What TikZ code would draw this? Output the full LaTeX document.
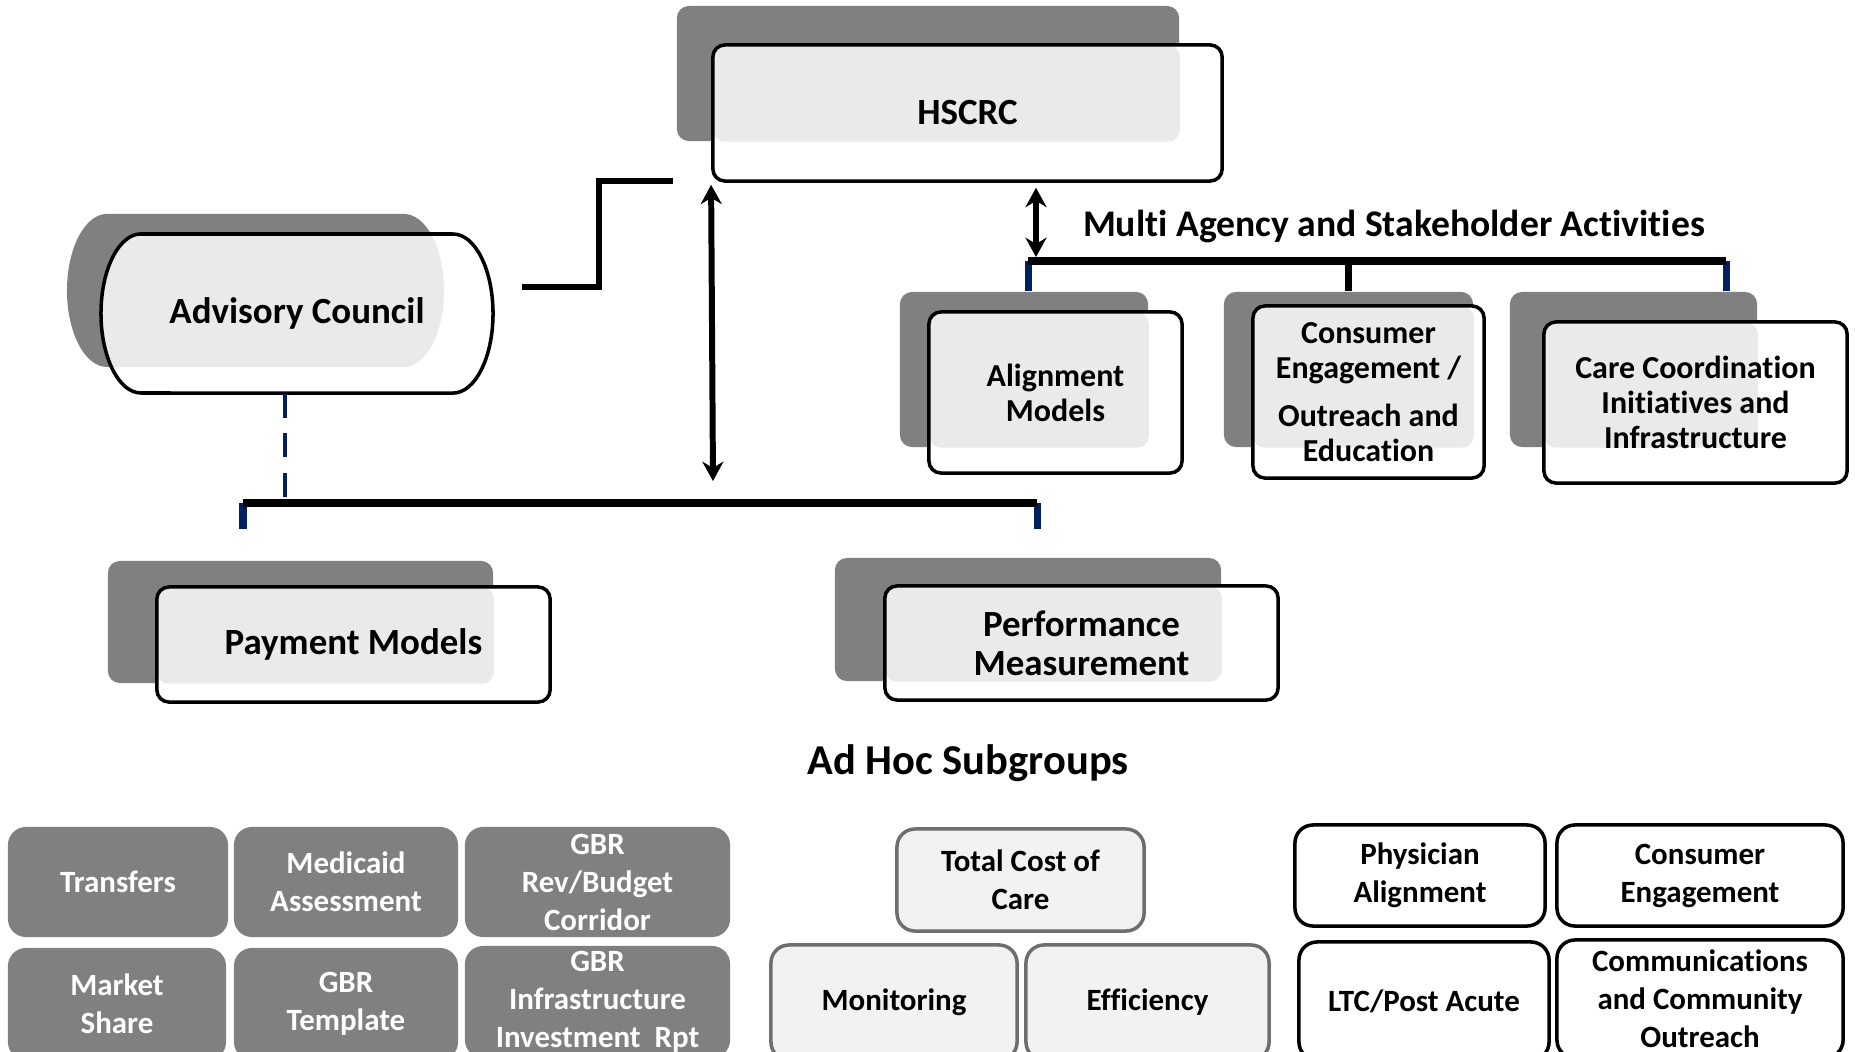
\documentclass[tikz,border=0pt]{standalone}
\usepackage{fontspec}
\setmainfont{Carlito}[Ligatures=NoCommon]
\usepackage{xcolor}
\usetikzlibrary{arrows.meta, positioning}

\definecolor{shadowgray}{RGB}{128,128,128}
\definecolor{dotgray}{RGB}{234,234,234}
\definecolor{linknavy}{RGB}{0,32,96}
\definecolor{lightfill}{RGB}{242,242,242}
\definecolor{midborder}{RGB}{110,110,110}

\begin{document}
\begin{tikzpicture}[x=0.01cm, y=-0.01cm,
    shadowbox/.style={fill=shadowgray, rounded corners=0.12cm, inner sep=0pt},
    frontbox/.style={draw, line width=1pt, fill=white, rounded corners=0.12cm, align=center, inner sep=1pt,
        path picture={\fill[dotgray, rounded corners=0.12cm] (path picture bounding box.north west) rectangle (#1.south east);}},
    bigtext/.style={font=\fontsize{10.5}{11.2}\selectfont\bfseries, align=center},
    midtext/.style={font=\fontsize{9.1}{9.9}\selectfont\bfseries, align=center},
    subtext/.style={font=\fontsize{8.8}{10.8}\selectfont\bfseries, align=center, inner sep=0.5pt},
    graysub/.style={subtext, fill=shadowgray, text=white, rounded corners=0.18cm},
    lightsub/.style={subtext, draw=midborder, line width=1pt, fill=lightfill, rounded corners=0.18cm},
    whitesub/.style={subtext, draw, line width=1pt, fill=white, rounded corners=0.18cm},
    bar/.style={line width=2pt},
    navydrop/.style={draw=linknavy, line width=2pt},
    blackdrop/.style={line width=2pt},
    navydash/.style={draw=linknavy, line width=1.4pt, dash pattern=on 6.8pt off 4.5pt},
    elbow/.style={line width=1.7pt},
    dblarrow/.style={{Stealth[length=5.5pt, width=6pt]}-{Stealth[length=5.5pt, width=6pt]}, line width=1.7pt}
]
\useasboundingbox (0,0) rectangle (1855,1052);

% --- HSCRC ---
\node[shadowbox, minimum width=5.02cm, minimum height=1.35cm] (hscrcsh) at (928,73.5) {};
\node[frontbox=hscrcsh, bigtext, minimum width=5.09cm, minimum height=1.36cm] (hscrc) at (967.5,113) {HSCRC};

% --- Advisory Council ---
\fill[shadowgray] (107,214) -- (404,214) arc[start angle=90, end angle=-90, x radius=0.4cm, y radius=0.765cm]
    -- (107,367) arc[start angle=270, end angle=90, x radius=0.4cm, y radius=0.765cm] -- cycle;
\draw[line width=1pt, fill=white,
    path picture={\fill[dotgray] (107,214) -- (404,214) arc[start angle=90, end angle=-90, x radius=0.4cm, y radius=0.765cm]
        -- (107,367) arc[start angle=270, end angle=90, x radius=0.4cm, y radius=0.765cm] -- cycle;}]
    (141,234) -- (453,234) arc[start angle=90, end angle=-90, x radius=0.4cm, y radius=0.795cm]
    -- (141,393) arc[start angle=270, end angle=90, x radius=0.4cm, y radius=0.795cm] -- cycle;
\node[bigtext, minimum width=3.92cm, minimum height=1.59cm] (advisory) at (297,313.5) {Advisory Council};

\coordinate (elbowstart) at (522,287);
\coordinate (elbowend) at (673,181);
\draw[elbow] (elbowstart) -- ++(77,0) |- (elbowend);

% --- Multi agency column ---
\node[bigtext, font=\fontsize{10.7}{12}\selectfont\bfseries] (multi) at (1394,226) {Multi Agency and Stakeholder Activities};
\coordinate (actfoot) at (1036,257);
\draw[dblarrow] ([yshift=-0.05cm]hscrc.south -| actfoot) -- (actfoot);

\node[shadowbox, minimum width=2.48cm, minimum height=1.55cm] (alignsh) at (1024,369.5) {};
\node[frontbox=alignsh, midtext, minimum width=2.53cm, minimum height=1.61cm] (align) at (1055.5,392.5) {Alignment\\Models};
\node[shadowbox, minimum width=2.49cm, minimum height=1.55cm] (consumersh) at (1348.5,369.5) {};
\node[frontbox=consumersh, midtext, minimum width=2.31cm, minimum height=1.72cm, inner xsep=0pt] (consumer) at (1368.5,392) {Consumer\\Engagement /\\[0.13cm]Outreach and\\Education\hspace{0.16cm}};
\node[shadowbox, minimum width=2.47cm, minimum height=1.55cm] (caresh) at (1633.5,369.5) {};
\node[frontbox=caresh, midtext, minimum width=3.03cm, minimum height=1.61cm] (care) at (1695.5,402.5) {Care Coordination\\Initiatives and\\Infrastructure};

\coordinate (topbarL) at (1028,261);
\coordinate (topbarR) at (1726,261);
\draw[navydrop] (topbarL) -- (topbarL |- alignsh.north);
\draw[blackdrop] (topbarL -| consumersh.north) -- (consumersh.north);
\draw[navydrop] (topbarR) -- (topbarR |- caresh.north);
\draw[bar] (topbarL) -- (topbarR);

% --- Lower tree ---
\coordinate (lowbarL) at (243,503);
\coordinate (lowbarR) at (1037,503);
\coordinate (hubfoot) at (713,481);
\draw[dblarrow] ([yshift=-0.02cm]hscrc.south west) -- (hubfoot);
\draw[navydash] ([xshift=-0.12cm]advisory.south) -- ([xshift=-0.12cm]advisory.south |- lowbarL);
\draw[navydrop] (lowbarL) -- ++(0,26);
\draw[navydrop] (lowbarR) -- ++(0,26);
\draw[bar] (lowbarL) -- (lowbarR);

\node[shadowbox, minimum width=3.85cm, minimum height=1.22cm] (paysh) at (300.5,622) {};
\node[frontbox=paysh, bigtext, minimum width=3.93cm, minimum height=1.15cm] (pay) at (353.5,644.5) {Payment Models};
\node[shadowbox, minimum width=3.86cm, minimum height=1.23cm] (perfsh) at (1028,619.5) {};
\node[frontbox=perfsh, bigtext, minimum width=3.93cm, minimum height=1.14cm] (perf) at (1081.5,643) {Performance\\Measurement};

% --- Ad hoc subgroups ---
\node[font=\fontsize{12.1}{14}\selectfont\bfseries] (adhoc) at (968,763) {Ad Hoc Subgroups};

\node[graysub, minimum width=2.20cm, minimum height=1.10cm] (transfers) at (118,882) {Transfers};
\node[graysub, minimum width=2.24cm, minimum height=1.10cm] (medicaid) at (346,882) {Medicaid\\Assessment};
\node[graysub, minimum width=2.65cm, minimum height=1.10cm] (corridor) at (597.5,882) {GBR\\Rev/Budget\\Corridor};
\node[graysub, minimum width=2.18cm, minimum height=1.12cm] (market) at (117,1004) {Market\\Share};
\node[graysub, minimum width=2.24cm, minimum height=1.12cm] (template) at (346,1004) {GBR\\Template};
\node[graysub, minimum width=2.65cm, minimum height=1.12cm] (infra) at (597.5,1002) {GBR\\Infrastructure\\Investment~~Rpt};

\node[lightsub, minimum width=2.47cm, minimum height=1.02cm] (tcoc) at (1020.5,880) {Total Cost of\\Care};
\node[lightsub, minimum width=2.46cm, minimum height=1.15cm] (monitor) at (894,1002.5) {Monitoring};
\node[lightsub, minimum width=2.43cm, minimum height=1.15cm] (effic) at (1147.5,1002.5) {Efficiency};

\node[whitesub, minimum width=2.50cm, minimum height=1.01cm] (physician) at (1420,875.5) {Physician\\Alignment};
\node[whitesub, minimum width=2.86cm, minimum height=1.01cm] (consumsub) at (1700,875.5) {Consumer\\Engagement};
\node[whitesub, minimum width=2.50cm, minimum height=1.18cm] (ltc) at (1424,1001) {LTC/Post Acute};
\node[whitesub, minimum width=2.86cm, minimum height=1.18cm] (comms) at (1700,999) {Communications\\and Community\\Outreach};

\end{tikzpicture}
\end{document}
